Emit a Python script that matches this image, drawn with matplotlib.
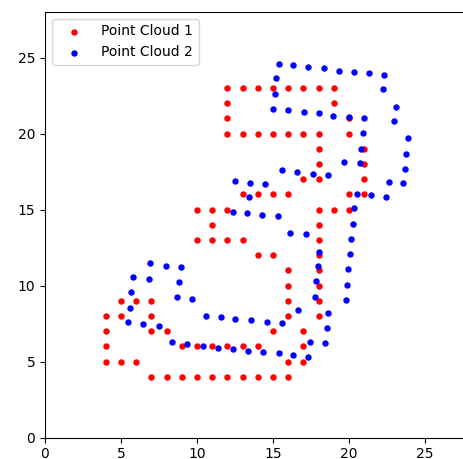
import matplotlib
matplotlib.use("Agg")
import matplotlib.pyplot as plt

# Point Cloud 1 (red, integer grid points)
cloud1_x = [12, 13, 14, 15, 16, 17, 18, 19,
            12, 12, 12,
            13, 14, 15, 16, 17, 18, 20,
            19, 20,
            21, 21, 21, 21, 20,
            18, 18, 18, 17,
            13, 14, 15, 16,
            20, 19, 18, 12, 11, 10,
            11, 18,
            10, 11, 12, 13, 18,
            14, 15, 18,
            16, 18, 16, 18, 16, 18, 16, 18,
            15, 17,
            5, 6, 7,
            4, 5, 7,
            4, 7, 8,
            4, 9, 10, 11, 12, 13, 14, 17,
            4, 5, 6,
            16, 17,
            7, 8, 9, 10, 11, 12, 13, 14, 15, 16]
cloud1_y = [23, 23, 23, 23, 23, 23, 23, 23,
            22, 21, 20,
            20, 20, 20, 20, 20, 20, 20,
            22, 21,
            19, 18, 17, 16, 16,
            19, 18, 17, 17,
            16, 16, 16, 16,
            15, 15, 15, 15, 15, 15,
            14, 14,
            13, 13, 13, 13, 13,
            12, 12, 12,
            11, 11, 10, 10, 9, 9, 8, 8,
            7, 7,
            9, 9, 9,
            8, 8, 8,
            7, 7, 7,
            6, 6, 6, 6, 6, 6, 6, 6,
            5, 5, 5,
            5, 5,
            4, 4, 4, 4, 4, 4, 4, 4, 4, 4]

# Point Cloud 2 (blue, transformed cloud)
cloud2_x = [15.37, 16.29, 17.32, 18.33, 19.36, 20.30, 21.33, 22.31,
            15.22, 15.16, 22.24,
            14.98, 16.01, 17.04, 18.04, 18.98, 20.01, 21.00,
            20.89, 20.80, 19.70, 20.73,
            15.57, 16.58, 17.61, 18.62,
            12.53, 13.50, 14.50, 13.43,
            20.51, 21.46, 22.44, 20.36,
            23.12, 22.97, 23.90, 23.77, 23.69, 22.62, 23.56,
            20.29, 12.36, 13.27, 14.28, 15.31,
            16.14, 17.17, 20.16, 18.04, 20.08, 17.96, 19.95,
            17.83, 19.86, 17.75, 19.80, 16.67, 18.64,
            11.61, 12.53, 13.56, 14.58, 15.57, 18.55,
            17.45, 18.42,
            11.38, 12.34, 13.34, 14.36, 15.37, 16.32, 17.32,
            6.91, 7.93, 8.92, 5.79, 6.82, 8.79, 5.66, 8.71, 9.66,
            5.60, 10.58, 5.47, 6.45, 7.48, 8.35, 9.36, 10.38]
cloud2_y = [24.58, 24.51, 24.36, 24.30, 24.14, 24.05, 24.01, 23.86,
            23.64, 22.61, 22.92,
            21.60, 21.55, 21.40, 21.34, 21.18, 21.11, 21.03,
            20.02, 18.99, 18.15, 18.05,
            17.58, 17.49, 17.32, 17.26,
            16.87, 16.73, 16.66, 15.83,
            16.01, 15.94, 15.83, 15.09,
            21.73, 20.81, 19.71, 18.68, 17.67, 16.81, 16.73,
            14.05, 14.86, 14.79, 14.64, 14.58,
            13.48, 13.39, 13.04, 12.23, 12.08, 11.29, 11.07,
            10.30, 10.04, 9.27, 9.05, 8.39, 8.17,
            7.94, 7.80, 7.73, 7.58, 7.52, 7.23,
            6.27, 6.20,
            5.91, 5.82, 5.69, 5.61, 5.54, 5.43, 5.32,
            11.45, 11.29, 11.20, 10.56, 10.41, 10.20, 9.54, 9.25, 9.10,
            8.52, 8.02, 7.58, 7.46, 7.35, 6.28, 6.14, 6.05]

labels = ["Point Cloud 1", "Point Cloud 2"]

fig = plt.figure(figsize=(4.64, 4.59), dpi=100)
ax = fig.add_axes([45 / 464, 21.5 / 459, 425.6 / 464, 425.6 / 459])
ax.scatter(cloud1_x, cloud1_y, s=13, color="red", label=labels[0])
ax.scatter(cloud2_x, cloud2_y, s=13, color="blue", label=labels[1])
ax.set_xlim(0, 28)
ax.set_ylim(0, 28)
ax.set_xticks([0, 5, 10, 15, 20, 25])
ax.set_yticks([0, 5, 10, 15, 20, 25])
ax.legend(loc="upper left", handlelength=2.35)
fig.savefig("out.png", dpi=100)
